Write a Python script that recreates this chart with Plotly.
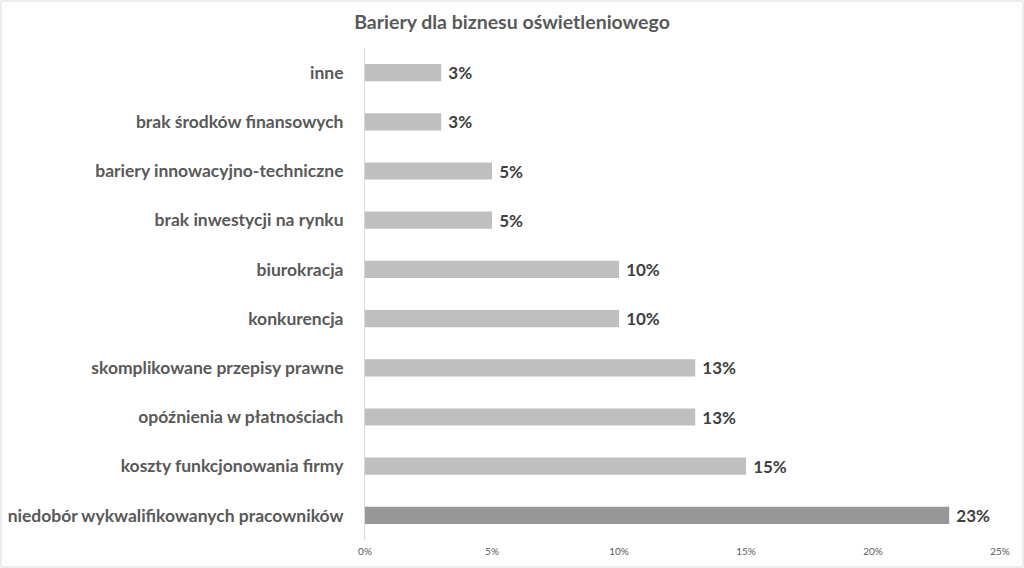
import plotly.graph_objects as go

# categories listed bottom -> top, as drawn on the chart
categories = [
    "niedobór wykwalifikowanych pracowników",
    "koszty funkcjonowania firmy",
    "opóźnienia w płatnościach",
    "skomplikowane przepisy prawne",
    "konkurencja",
    "biurokracja",
    "brak inwestycji na rynku",
    "bariery innowacyjno-techniczne",
    "brak środków finansowych",
    "inne",
]
shares = [0.23, 0.15, 0.13, 0.13, 0.10, 0.10, 0.05, 0.05, 0.03, 0.03]
tick_vals = [0, 0.05, 0.10, 0.15, 0.20, 0.25]

W, H = 1024, 568
ml, mr, mt, mb = 365, 24, 48, 28

colors = ["#979797"] + ["#bfbfbf"] * (len(categories) - 1)

fig = go.Figure(go.Bar(
    x=shares,
    y=categories,
    orientation="h",
    marker=dict(color=colors, line=dict(width=0)),
    texttemplate="\u00a0%{x:.0%}",
    textposition="outside",
    constraintext="none",
    textfont=dict(family="Lato", size=17, color="#404040", weight="bold"),
    cliponaxis=False,
    hoverinfo="skip",
))

# thin frame around the whole picture
pw = W - ml - mr
ph = H - mt - mb
fig.add_shape(type="rect", xref="paper", yref="paper",
              x0=-(ml - 1) / pw, x1=1 + (mr - 1) / pw,
              y0=-(mb - 1) / ph, y1=1 + (mt - 1) / ph,
              line=dict(color="#d9d9d9", width=1))

fig.update_layout(
    width=W, height=H,
    margin=dict(l=ml, r=mr, t=mt, b=mb),
    paper_bgcolor="white",
    plot_bgcolor="white",
    bargap=0.65,
    showlegend=False,
    title=dict(text="<b>Bariery dla biznesu oświetleniowego</b>",
               x=0.5, xref="container", xanchor="center", y=1 - 22 / H, yanchor="middle",
               font=dict(family="Lato", size=19.5, color="#595959")),
    font=dict(family="Lato", color="#595959"),
)
fig.update_xaxes(range=[0, 0.25], tickvals=tick_vals, tickformat=".0%",
                 showgrid=False, zeroline=False, showline=False,
                 tickfont=dict(size=10, color="#595959"), ticklabelstandoff=4)
fig.update_yaxes(showline=True, linecolor="#d9d9d9", linewidth=1, showgrid=False,
                 tickfont=dict(family="Lato", size=17.5, color="#595959", weight="bold"),
                 ticklabelstandoff=17, automargin=False)

fig.write_html("out.html", config={"displayModeBar": False},
               post_script="document.body.style.margin='0px';")
